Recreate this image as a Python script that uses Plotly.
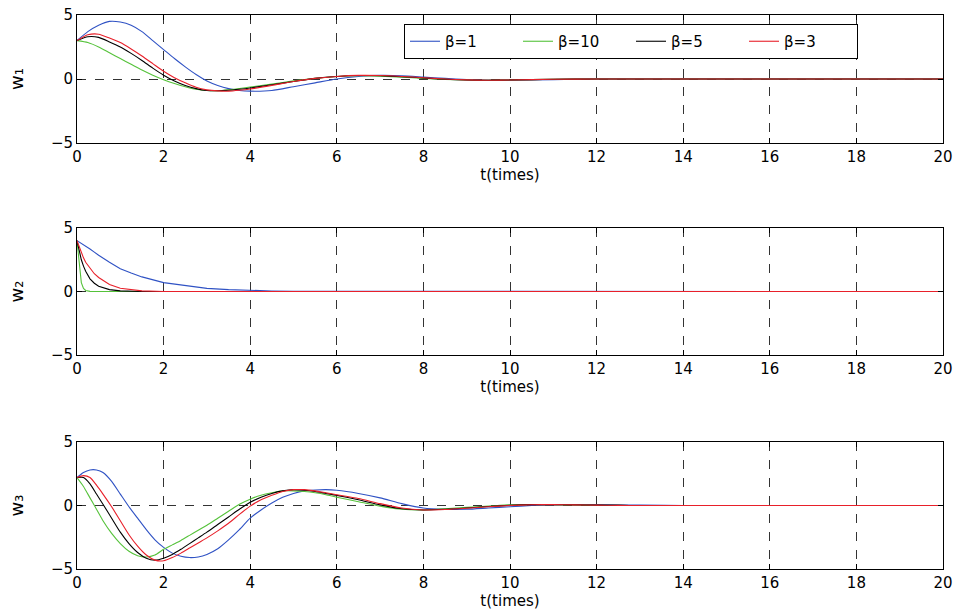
import plotly.graph_objects as go

# ---------------- data ----------------
labels = ["β=1", "β=10", "β=5", "β=3"]
colors = ["#2f52c4", "#55c23a", "#000000", "#e8202a"]

t1 = [0, 0.25, 0.5, 0.75, 1, 1.25, 1.5, 1.75, 2, 2.25, 2.5, 2.75, 3, 3.25, 3.5, 3.75, 4,
      4.5, 5, 5.5, 6, 6.5, 7, 7.5, 8, 8.5, 9, 9.5, 10, 11, 12, 14, 16, 18, 20]
w1_b1 = [3.0, 3.7, 4.2, 4.5, 4.45, 4.2, 3.7, 3.0, 2.3, 1.6, 0.95, 0.35, -0.15, -0.5, -0.75, -0.9, -0.95,
         -0.9, -0.6, -0.3, 0.0, 0.2, 0.28, 0.25, 0.15, 0.05, -0.05, -0.1, -0.1, -0.05, 0, 0, 0, 0, 0]
w1_b10 = [3.0, 2.85, 2.5, 2.05, 1.6, 1.15, 0.7, 0.3, -0.05, -0.35, -0.6, -0.8, -0.9, -0.92, -0.85, -0.75, -0.62,
          -0.4, -0.15, 0.05, 0.2, 0.25, 0.22, 0.15, 0.05, -0.03, -0.08, -0.1, -0.08, -0.02, 0, 0, 0, 0, 0]
w1_b5 = [3.0, 3.3, 3.25, 2.9, 2.5, 2.0, 1.45, 0.85, 0.3, -0.15, -0.5, -0.75, -0.9, -0.92, -0.88, -0.8, -0.7,
         -0.45, -0.2, 0.05, 0.2, 0.27, 0.25, 0.18, 0.08, -0.02, -0.08, -0.1, -0.08, -0.02, 0, 0, 0, 0, 0]
w1_b3 = [3.0, 3.45, 3.5, 3.2, 2.85, 2.35, 1.8, 1.2, 0.6, 0.1, -0.3, -0.65, -0.85, -0.93, -0.95, -0.88, -0.78,
         -0.5, -0.2, 0.05, 0.2, 0.28, 0.27, 0.2, 0.1, 0.0, -0.07, -0.1, -0.08, -0.02, 0, 0, 0, 0, 0]

t2 = [0, 0.05, 0.1, 0.15, 0.2, 0.3, 0.4, 0.5, 0.75, 1, 1.25, 1.5, 2, 2.5, 3, 3.5, 4, 4.5, 5, 10, 20]
w2_b1 = [4.0, 3.9, 3.8, 3.7, 3.6, 3.35, 3.1, 2.85, 2.3, 1.8, 1.45, 1.15, 0.7, 0.45, 0.25, 0.15, 0.08, 0.04, 0.02, 0, 0]
w2_b10 = [4.0, 2.0, 0.7, 0.25, 0.08, 0.01, 0, 0, 0, 0, 0, 0, 0, 0, 0, 0, 0, 0, 0, 0, 0]
w2_b5 = [4.0, 3.2, 2.5, 2.0, 1.6, 1.0, 0.65, 0.42, 0.15, 0.05, 0.02, 0, 0, 0, 0, 0, 0, 0, 0, 0, 0]
w2_b3 = [4.0, 3.5, 3.0, 2.65, 2.3, 1.8, 1.4, 1.1, 0.55, 0.25, 0.12, 0.05, 0, 0, 0, 0, 0, 0, 0, 0, 0]

t3 = [0, 0.15, 0.3, 0.45, 0.6, 0.8, 1, 1.2, 1.4, 1.6, 1.8, 2, 2.2, 2.4, 2.6, 2.8, 3, 3.25, 3.5, 3.75, 4,
      4.25, 4.5, 4.75, 5, 5.25, 5.5, 5.75, 6, 6.5, 7, 7.5, 8, 8.5, 9, 9.5, 10, 10.5, 11, 11.5, 12, 12.5, 13, 14, 20]
w3_b1 = [2.2, 2.6, 2.8, 2.8, 2.6, 1.9, 0.9, -0.1, -1.0, -1.9, -2.7, -3.3, -3.75, -4.0, -4.1, -4.05, -3.85, -3.4, -2.7, -1.9, -1.0,
         -0.35, 0.2, 0.65, 0.95, 1.15, 1.22, 1.25, 1.2, 0.95, 0.6, 0.15, -0.2, -0.3, -0.3, -0.2, -0.1, 0.0, 0.05, 0.08, 0.08, 0.06, 0.03, 0, 0]
w3_b10 = [2.2, 1.5, 0.6, -0.3, -1.2, -2.2, -3.0, -3.6, -3.95, -4.05, -3.9, -3.45, -3.1, -2.75, -2.35, -1.95, -1.55, -1.0, -0.45, 0.1, 0.5,
          0.8, 1.0, 1.15, 1.15, 1.1, 1.0, 0.85, 0.65, 0.3, -0.05, -0.3, -0.35, -0.25, -0.15, -0.05, 0.05, 0.08, 0.06, 0.04, 0.02, 0.01, 0, 0, 0]
w3_b5 = [2.2, 2.2, 1.7, 0.9, 0.1, -1.0, -2.1, -3.0, -3.7, -4.15, -4.3, -4.15, -3.85, -3.45, -3.0, -2.55, -2.1, -1.5, -0.9, -0.3, 0.25,
         0.65, 0.95, 1.15, 1.25, 1.2, 1.1, 0.95, 0.8, 0.45, 0.05, -0.25, -0.35, -0.3, -0.2, -0.08, 0.02, 0.07, 0.07, 0.05, 0.03, 0.01, 0, 0, 0]
w3_b3 = [2.2, 2.35, 2.2, 1.6, 0.9, -0.1, -1.2, -2.3, -3.2, -3.9, -4.3, -4.35, -4.1, -3.75, -3.35, -2.95, -2.55, -2.0, -1.4, -0.7, -0.05,
         0.45, 0.8, 1.1, 1.25, 1.25, 1.15, 1.0, 0.85, 0.55, 0.15, -0.2, -0.35, -0.32, -0.22, -0.1, 0.0, 0.06, 0.07, 0.05, 0.03, 0.01, 0, 0, 0]

x_ticks = [0, 2, 4, 6, 8, 10, 12, 14, 16, 18, 20]
y_ticks = [-5, 0, 5]
x_title = "t(times)"
y_titles = ["w₁", "w₂", "w₃"]

panels = [
    (t1, [w1_b1, w1_b10, w1_b5, w1_b3], "spline"),
    (t2, [w2_b1, w2_b10, w2_b5, w2_b3], "linear"),
    (t3, [w3_b1, w3_b10, w3_b5, w3_b3], "spline"),
]

# ---------------- figure ----------------
H = 614.0
FONT = "DejaVu Sans, Liberation Sans, Arial, sans-serif"
y_domains = [(1 - 143 / H, 1 - 15 / H), (1 - 355 / H, 1 - 228 / H), (1 - 569 / H, 1 - 442 / H)]

fig = go.Figure()
for i, (tt, series, shape) in enumerate(panels):
    suffix = "" if i == 0 else str(i + 1)
    for j, ys in enumerate(series):
        fig.add_trace(go.Scatter(
            x=tt, y=ys, mode="lines", name=labels[j],
            line=dict(color=colors[j], width=1.1, shape=shape, smoothing=0.6 if shape == "spline" else None),
            showlegend=(i == 0), xaxis="x" + suffix, yaxis="y" + suffix,
        ))

axis_common = dict(
    showline=True, linecolor="black", linewidth=1, mirror="ticks",
    ticks="inside", ticklen=5, tickcolor="black",
    showgrid=True, gridcolor="#333333", griddash="dash", gridwidth=1,
    zeroline=False, automargin=False,
    tickfont=dict(family=FONT, size=15, color="black"),
)

layout = dict(
    width=955, height=614,
    margin=dict(l=77, r=12, t=0, b=0, autoexpand=False),
    paper_bgcolor="white", plot_bgcolor="white",
    font=dict(family=FONT, size=15, color="black"),
    legend=dict(
        orientation="h", x=(404 - 77) / 866, y=1 - 24 / H, xanchor="left", yanchor="top",
        bordercolor="black", borderwidth=1, bgcolor="white",
        font=dict(family=FONT, size=15, color="black"),
        entrywidth=68, tracegroupgap=0,
    ),
)
for i in range(3):
    suffix = "" if i == 0 else str(i + 1)
    layout["xaxis" + suffix] = dict(
        axis_common, domain=[0, 1], range=[0, 20], tickvals=x_ticks,
        anchor="y" + suffix,
        title=dict(text=x_title, standoff=2, font=dict(family=FONT, size=15, color="black")),
    )
    layout["yaxis" + suffix] = dict(
        axis_common, domain=list(y_domains[i]), range=[-5, 5], tickvals=y_ticks,
        anchor="x" + suffix,
        title=dict(text=y_titles[i], standoff=22, font=dict(family=FONT, size=18, color="black")),
    )

fig.update_layout(**layout)
fig.write_html("out.html")
